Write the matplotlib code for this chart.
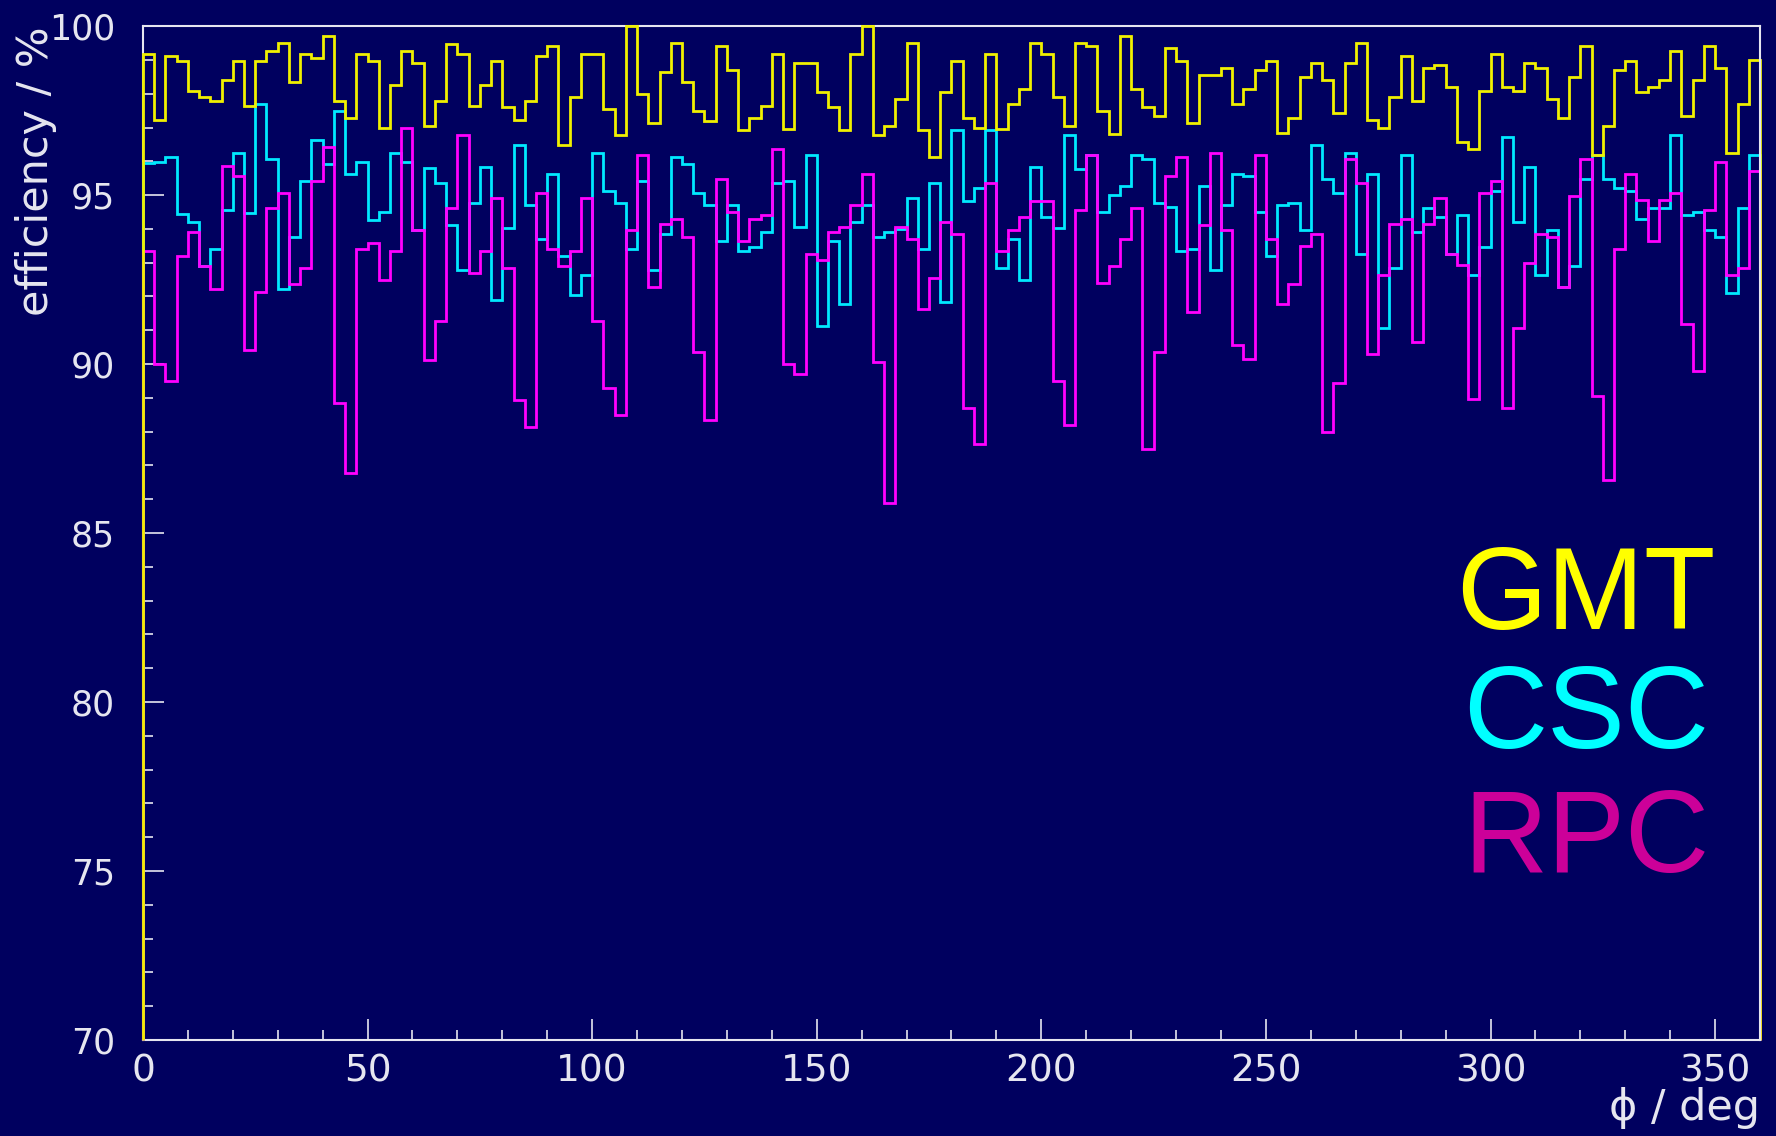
import numpy as np
import matplotlib
matplotlib.use("Agg")
import matplotlib.pyplot as plt
from matplotlib.ticker import MultipleLocator

# efficiency vs phi, 144 bins of 2.5 deg
gmt_eff = [
    99.19, 97.22, 99.12, 98.97, 98.08, 97.91, 97.78, 98.40, 98.97, 97.63,
    98.97, 99.26, 99.49, 98.35, 99.19, 99.06, 99.70, 97.78, 97.27, 99.19,
    98.97, 96.99, 98.25, 99.26, 98.92, 97.05, 97.78, 99.47, 99.19, 97.63,
    98.25, 98.97, 97.61, 97.22, 97.78, 99.12, 99.41, 96.48, 97.91, 99.19,
    99.19, 97.56, 96.78, 100.0, 97.98, 97.12, 98.63, 99.49, 98.34, 97.50,
    97.20, 99.41, 98.70, 96.92, 97.27, 97.63, 99.19, 96.97, 98.92, 98.92,
    98.06, 97.61, 96.92, 99.19, 100.0, 96.78, 97.04, 97.84, 99.49, 96.92,
    96.13, 98.06, 98.97, 97.27, 96.99, 99.19, 96.97, 97.69, 98.13, 99.49,
    99.19, 97.91, 97.04, 99.49, 99.41, 97.50, 96.82, 99.70, 98.13, 97.61,
    97.34, 99.34, 98.97, 97.12, 98.55, 98.55, 98.77, 97.69, 98.13, 98.70,
    98.97, 96.84, 97.27, 98.48, 98.92, 98.40, 97.42, 98.92, 99.49, 97.22,
    96.99, 97.91, 99.12, 97.78, 98.77, 98.85, 98.21, 96.56, 96.35, 98.08,
    99.19, 98.21, 98.08, 98.92, 98.77, 97.84, 97.27, 98.48, 99.41, 96.18,
    97.05, 98.70, 98.97, 98.06, 98.21, 98.40, 99.26, 97.34, 98.40, 99.41,
    98.77, 96.26, 97.69, 98.99,
]

csc_eff = [
    95.94, 95.99, 96.13, 94.43, 94.21, 92.91, 93.41, 94.56, 96.26, 94.48,
    97.69, 96.06, 92.21, 93.77, 95.41, 96.63, 95.92, 97.50, 95.62, 95.99,
    94.26, 94.49, 96.26, 95.99, 93.98, 95.79, 95.35, 94.13, 92.78, 94.77,
    95.84, 91.91, 94.04, 96.48, 94.70, 93.70, 95.62, 93.20, 92.04, 92.63,
    96.25, 95.12, 94.77, 93.41, 95.41, 92.78, 93.85, 96.13, 95.92, 95.07,
    94.70, 93.64, 94.70, 93.35, 93.47, 93.92, 95.35, 95.41, 94.06, 96.20,
    91.12, 93.64, 91.78, 94.21, 94.70, 93.77, 93.92, 94.01, 94.90, 93.41,
    95.35, 91.84, 96.92, 94.83, 95.20, 96.92, 92.83, 93.70, 92.49, 95.84,
    94.34, 94.04, 96.78, 95.76, 96.20, 94.49, 95.00, 95.28, 96.20, 96.06,
    94.77, 94.64, 93.35, 93.41, 95.28, 92.78, 94.70, 95.62, 95.56, 94.49,
    93.20, 94.70, 94.77, 93.98, 96.48, 95.47, 95.07, 96.25, 93.27, 95.62,
    91.06, 92.85, 96.20, 93.92, 94.63, 94.34, 93.27, 94.41, 92.63, 93.47,
    95.13, 96.71, 94.19, 95.84, 92.63, 93.98, 92.29, 92.91, 95.49, 96.18,
    95.49, 95.20, 95.13, 94.28, 94.63, 94.63, 96.78, 94.41, 94.49, 93.98,
    93.77, 92.11, 94.63, 96.20,
]

rpc_eff = [
    93.35, 90.00, 89.50, 93.21, 93.92, 92.91, 92.21, 95.86, 95.56, 90.41,
    92.14, 94.63, 95.07, 92.36, 92.85, 95.41, 96.43, 88.84, 86.77, 93.41,
    93.57, 92.50, 93.35, 96.99, 93.98, 90.12, 91.27, 94.63, 96.78, 92.70,
    93.35, 94.90, 92.85, 88.93, 88.13, 95.05, 93.41, 92.91, 93.35, 94.90,
    91.27, 89.28, 88.49, 93.98, 96.20, 92.29, 94.14, 94.28, 93.77, 90.36,
    88.36, 95.49, 94.49, 93.64, 94.28, 94.41, 96.35, 89.99, 89.70, 93.27,
    93.08, 93.92, 94.06, 94.70, 95.62, 90.07, 85.88, 94.06, 93.70, 91.63,
    92.56, 94.21, 93.84, 88.71, 87.63, 95.35, 93.35, 93.98, 94.34, 94.83,
    94.83, 89.50, 88.20, 94.56, 96.20, 92.39, 92.91, 93.70, 94.63, 87.50,
    90.35, 95.56, 96.13, 91.55, 94.13, 96.26, 93.98, 90.56, 90.14, 96.20,
    93.70, 91.78, 92.36, 93.49, 93.84, 87.98, 89.43, 96.06, 95.35, 90.29,
    92.63, 94.14, 94.28, 90.64, 94.14, 94.90, 93.27, 92.93, 88.98, 95.07,
    95.41, 88.69, 91.06, 92.98, 93.85, 93.77, 92.29, 94.98, 96.06, 89.05,
    86.57, 93.41, 95.62, 94.85, 93.64, 94.85, 95.07, 91.20, 89.79, 94.56,
    95.99, 92.63, 92.85, 95.71,
]

PHI_MIN, PHI_MAX = 0, 360
EFF_MIN, EFF_MAX = 70, 100

BG = "#00005f"
FG = "#e6e6f0"

phi_edges = np.linspace(PHI_MIN, PHI_MAX, len(gmt_eff) + 1)

fig = plt.figure(figsize=(17.76, 11.36), dpi=100, facecolor=BG)
ax = fig.add_axes([0.0805, 0.0845, 0.9105, 0.8925])
ax.set_facecolor(BG)

# histogram outlines, ROOT style (edges drop down to the frame bottom)
ax.stairs(csc_eff, phi_edges, baseline=EFF_MIN, color="#00e8ff", lw=2.0, zorder=3, clip_on=False)
ax.stairs(rpc_eff, phi_edges, baseline=EFF_MIN, color="#ff00ff", lw=2.0, zorder=3.1, clip_on=False)
ax.stairs(gmt_eff, phi_edges, baseline=EFF_MIN, color="#f0f000", lw=2.0, zorder=3.2, clip_on=False)

ax.set_xlim(PHI_MIN, PHI_MAX)
ax.set_ylim(EFF_MIN, EFF_MAX)

for side, sp in ax.spines.items():
    sp.set_color(FG)
    sp.set_linewidth(1.5)
ax.spines["right"].set_zorder(5)

ax.xaxis.set_major_locator(MultipleLocator(50))
ax.xaxis.set_minor_locator(MultipleLocator(10))
ax.yaxis.set_major_locator(MultipleLocator(5))
ax.yaxis.set_minor_locator(MultipleLocator(1))

ax.tick_params(which="both", direction="in", color=FG, width=1.2, top=False, right=False)
ax.tick_params(which="major", length=15)
ax.tick_params(which="minor", length=7.5)
ax.tick_params(axis="x", which="major", labelsize=27, labelcolor=FG, pad=10)
ax.tick_params(axis="y", which="major", labelsize=25, labelcolor=FG, pad=20)

ax.set_ylabel("efficiency / %", fontsize=31, color=FG, loc="top", labelpad=-6)
ax.set_xlabel("ϕ / deg", fontsize=31, color=FG, loc="right", labelpad=-2)

# big legend words on the right
fig.text(0.820, 0.4463, "GMT", color="#ffff00", fontsize=84, family="Liberation Sans", va="baseline")
fig.text(0.824, 0.3415, "CSC", color="#00ffff", fontsize=84, family="Liberation Sans", va="baseline")
fig.text(0.824, 0.2324, "RPC", color="#cc0099", fontsize=84, family="Liberation Sans", va="baseline")

fig.savefig("out.png", dpi=100, facecolor=BG)
print("saved out.png")
